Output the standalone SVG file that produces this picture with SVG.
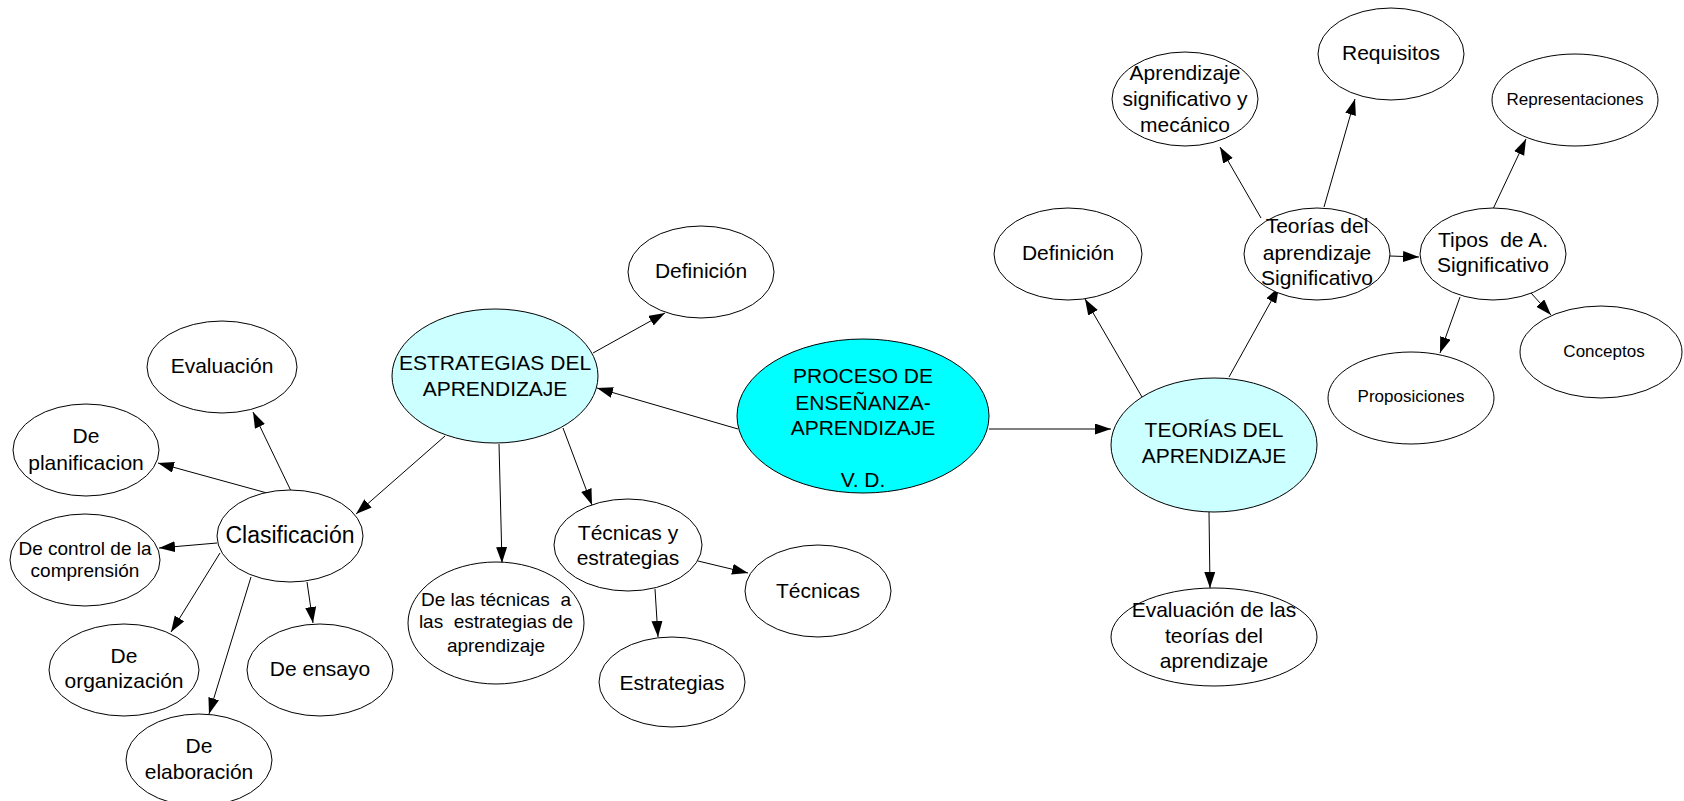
<svg xmlns="http://www.w3.org/2000/svg" width="1684" height="801" viewBox="0 0 1684 801">
<defs>
<marker id="ah" markerUnits="userSpaceOnUse" markerWidth="17" markerHeight="12" refX="16" refY="5.5" orient="auto">
<path d="M0,0 L16,5.5 L0,11 z" fill="#000"/>
</marker>
<style>
.n ellipse{fill:#fff;stroke:#000;stroke-width:1}
.n.c1 ellipse{fill:#ccffff}
.n.c2 ellipse{fill:#00ffff}
text{font-family:"Liberation Sans",Arial,sans-serif;font-size:21px;fill:#000;text-anchor:middle;white-space:pre}
.s{font-size:17px}
.m{font-size:19px}
#edges line{stroke:#000;stroke-width:1;marker-end:url(#ah)}
</style>
</defs>
<rect width="1684" height="801" fill="#fff"/>
<g id="edges">
<line x1="738" y1="429" x2="597" y2="388"/>
<line x1="989" y1="429" x2="1111" y2="429"/>
<line x1="593" y1="353" x2="665" y2="313"/>
<line x1="445" y1="436" x2="356" y2="514"/>
<line x1="499" y1="444" x2="502" y2="563"/>
<line x1="563" y1="428" x2="592" y2="505"/>
<line x1="291" y1="491" x2="253" y2="412"/>
<line x1="267" y1="493" x2="158" y2="463"/>
<line x1="217" y1="543" x2="159" y2="548"/>
<line x1="220" y1="553" x2="171" y2="632"/>
<line x1="251" y1="577" x2="209" y2="714"/>
<line x1="307" y1="582" x2="313" y2="623"/>
<line x1="698" y1="561" x2="748" y2="573"/>
<line x1="655" y1="589" x2="658" y2="637"/>
<line x1="1142" y1="397" x2="1085" y2="299"/>
<line x1="1229" y1="377" x2="1279" y2="287"/>
<line x1="1209" y1="512" x2="1210" y2="588"/>
<line x1="1261" y1="218" x2="1220" y2="147"/>
<line x1="1324" y1="207" x2="1355" y2="99"/>
<line x1="1390" y1="256" x2="1419" y2="257"/>
<line x1="1493" y1="209" x2="1526" y2="139"/>
<line x1="1531" y1="293" x2="1551" y2="315"/>
<line x1="1460" y1="297" x2="1440" y2="353"/>
</g>
<g id="proceso" class="n c2"><ellipse cx="863" cy="416" rx="126" ry="77"/>
<text x="863" y="383">PROCESO DE</text><text x="863" y="410">ENSEÑANZA-</text><text x="863" y="435">APRENDIZAJE</text><text x="863" y="487">V. D.</text></g>
<g id="estrategias" class="n c1"><ellipse cx="495" cy="376" rx="103" ry="67"/>
<text x="495" y="370">ESTRATEGIAS DEL</text><text x="495" y="396">APRENDIZAJE</text></g>
<g id="definicion1" class="n"><ellipse cx="701" cy="272" rx="73" ry="46"/><text x="701" y="278">Definición</text></g>
<g id="clasificacion" class="n"><ellipse cx="290" cy="536" rx="73" ry="46"/><text x="290" y="543" style="font-size:23px">Clasificación</text></g>
<g id="evaluacion" class="n"><ellipse cx="222" cy="367" rx="75" ry="46"/><text x="222" y="373">Evaluación</text></g>
<g id="planificacion" class="n"><ellipse cx="86" cy="450" rx="73" ry="46"/><text x="86" y="443">De</text><text x="86" y="470">planificacion</text></g>
<g id="control" class="n"><ellipse cx="85" cy="560" rx="75" ry="46"/><text class="m" x="85" y="555">De control de la</text><text class="m" x="85" y="577">comprensión</text></g>
<g id="organizacion" class="n"><ellipse cx="124" cy="670" rx="75" ry="46"/><text x="124" y="663">De</text><text x="124" y="688">organización</text></g>
<g id="ensayo" class="n"><ellipse cx="320" cy="670" rx="73" ry="46"/><text x="320" y="676">De ensayo</text></g>
<g id="elaboracion" class="n"><ellipse cx="199" cy="760" rx="73" ry="46"/><text x="199" y="753">De</text><text x="199" y="779">elaboración</text></g>
<g id="delastecnicas" class="n"><ellipse cx="496" cy="623" rx="88" ry="61"/><text class="m" x="496" y="606">De las técnicas  a</text><text class="m" x="496" y="628">las  estrategias de</text><text class="m" x="496" y="652">aprendizaje</text></g>
<g id="tecnicasyest" class="n"><ellipse cx="628" cy="545" rx="74" ry="46"/><text x="628" y="540">Técnicas y</text><text x="628" y="565">estrategias</text></g>
<g id="tecnicas" class="n"><ellipse cx="818" cy="591" rx="73" ry="46"/><text x="818" y="598">Técnicas</text></g>
<g id="estrategias2" class="n"><ellipse cx="672" cy="682" rx="73" ry="45"/><text x="672" y="690">Estrategias</text></g>
<g id="teorias" class="n c1"><ellipse cx="1214" cy="445" rx="103" ry="67"/><text x="1214" y="437">TEORÍAS DEL</text><text x="1214" y="463">APRENDIZAJE</text></g>
<g id="definicion2" class="n"><ellipse cx="1068" cy="254" rx="74" ry="46"/><text x="1068" y="260">Definición</text></g>
<g id="evalteorias" class="n"><ellipse cx="1214" cy="637" rx="103" ry="49"/><text x="1214" y="617">Evaluación de las</text><text x="1214" y="643">teorías del</text><text x="1214" y="668">aprendizaje</text></g>
<g id="teoriassig" class="n"><ellipse cx="1317" cy="254" rx="73" ry="46"/><text x="1317" y="233">Teorías del</text><text x="1317" y="260">aprendizaje</text><text x="1317" y="285">Significativo</text></g>
<g id="aprsig" class="n"><ellipse cx="1185" cy="99" rx="73" ry="47"/><text x="1185" y="80">Aprendizaje</text><text x="1185" y="106">significativo y</text><text x="1185" y="132">mecánico</text></g>
<g id="requisitos" class="n"><ellipse cx="1391" cy="54" rx="73" ry="46"/><text x="1391" y="60">Requisitos</text></g>
<g id="tipos" class="n"><ellipse cx="1493" cy="254" rx="73" ry="46"/><text x="1493" y="247">Tipos  de A.</text><text x="1493" y="272">Significativo</text></g>
<g id="representaciones" class="n"><ellipse cx="1575" cy="100" rx="83" ry="46"/><text class="s" x="1575" y="105">Representaciones</text></g>
<g id="conceptos" class="n"><ellipse cx="1601" cy="352" rx="81" ry="46"/><text class="s" x="1604" y="357">Conceptos</text></g>
<g id="proposiciones" class="n"><ellipse cx="1411" cy="398" rx="83" ry="46"/><text class="s" x="1411" y="402">Proposiciones</text></g>
</svg>
